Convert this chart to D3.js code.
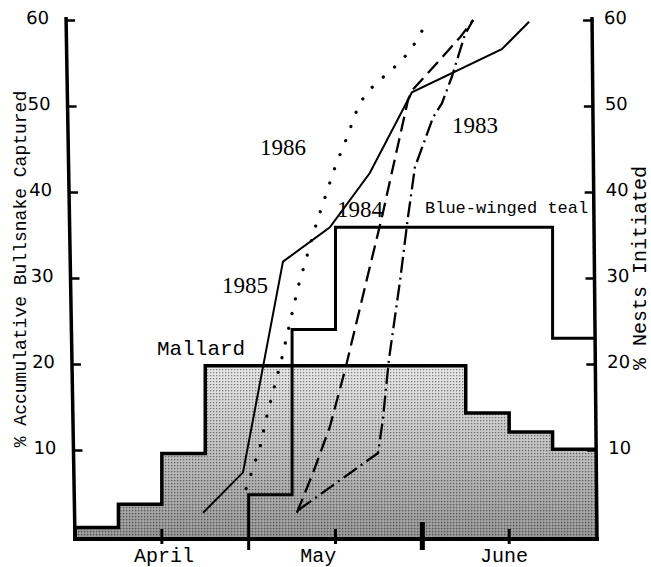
<!DOCTYPE html>
<html>
<head>
<meta charset="utf-8">
<script src="https://cdn.jsdelivr.net/npm/d3@7"></script>
<style>
  html, body { margin: 0; padding: 0; background: #fff; }
  svg { display: block; }
</style>
</head>
<body>
<script>
// weekly bins, week 0 = start of April
var mallardPct = [1, 3.7, 9.6, 19.8, 19.8, 19.8, 19.8, 19.8, 19.8, 14.3, 12.1, 10.1];
var tealStartWeek = 4;
var tealPct = [4.8, 24, 35.9, 35.9, 35.9, 35.9, 35.9, 23];

// cumulative bullsnake captures, [week, %]
var snake1983 = [[5.14,3.0],[6.98,9.65],[7.09,13.5],[7.23,20.5],[7.49,29.8],[7.67,37.1],[7.83,42.9],[8.25,48.7],[8.45,50.3],[8.68,53.4],[8.98,58.3],[9.17,60]];
var snake1984 = [[5.11,2.7],[5.48,7.3],[5.87,12.7],[6.22,19.3],[6.72,29.8],[7.07,37.1],[7.67,50.7],[7.78,51.9],[8.25,54.5],[8.87,58.0],[9.17,60]];
var snake1985 = [[2.95,2.7],[3.87,7.4],[4.79,31.9],[5.87,35.9],[6.79,42.2],[7.76,51.6],[9.83,56.6],[10.46,59.8]];
var snake1986 = [[3.94,5.5],[4.26,10.3],[4.44,14.4],[4.77,20.8],[5.14,29.0],[5.57,36.5],[5.99,42.9],[6.26,46.3],[6.52,49.9],[6.72,51.6],[7.02,53.0],[7.53,55.3],[7.78,56.9],[8.08,59.5]];

var yTicks = [10, 20, 30, 40, 50, 60];
var weekTicks = [2, 4, 6, 8, 10];
var monthNames = ["April", "May", "June"];
var monthAt = [2.05, 5.6, 9.88];

var width = 651, height = 567;
var svg = d3.select("body").append("svg")
    .attr("width", width)
    .attr("height", height);

var x = d3.scaleLinear().domain([0, 12]).range([75, 596]);
var y = d3.scaleLinear().domain([0, 60]).range([536, 20]);
var base = y(0) + 3;

var mono = "'Liberation Mono', 'DejaVu Sans Mono', monospace";
var serif = "'Liberation Serif', 'DejaVu Serif', serif";
var sans = "'DejaVu Sans', sans-serif";

// shading for the mallard histogram
var defs = svg.append("defs");
var grad = defs.append("linearGradient")
    .attr("id", "shade")
    .attr("gradientUnits", "userSpaceOnUse")
    .attr("x1", 0).attr("y1", y(20))
    .attr("x2", 0).attr("y2", base);
grad.append("stop").attr("offset", "0%").attr("stop-color", "#e6e6e6");
grad.append("stop").attr("offset", "100%").attr("stop-color", "#8c8c8c");

var pat = defs.append("pattern")
    .attr("id", "dots")
    .attr("patternUnits", "userSpaceOnUse")
    .attr("width", 3).attr("height", 3);
pat.append("rect").attr("width", 1.3).attr("height", 1.3).attr("fill", "#111").attr("opacity", 0.45);
pat.append("rect").attr("x", 1.5).attr("y", 1.5).attr("width", 1).attr("height", 1).attr("fill", "#fff").attr("opacity", 0.55);

function stepPath(start, vals, closeBottom) {
    var p = d3.path();
    p.moveTo(x(start), base);
    vals.forEach(function (v, i) {
        p.lineTo(x(start + i), y(v));
        p.lineTo(x(start + i + 1), y(v));
    });
    if (closeBottom) {
        p.lineTo(x(start + vals.length), base);
        p.closePath();
    }
    return p.toString();
}

// mallard filled histogram
svg.append("path")
    .attr("d", stepPath(0, mallardPct, true))
    .attr("fill", "url(#shade)");
svg.append("path")
    .attr("d", stepPath(0, mallardPct, true))
    .attr("fill", "url(#dots)");
svg.append("path")
    .attr("d", stepPath(0, mallardPct, false))
    .attr("fill", "none")
    .attr("stroke", "#000")
    .attr("stroke-width", 3.5);

// blue-winged teal outline
svg.append("path")
    .attr("d", stepPath(tealStartWeek, tealPct, false))
    .attr("fill", "none")
    .attr("stroke", "#000")
    .attr("stroke-width", 3);

// bullsnake lines
var line = d3.line()
    .x(function (d) { return x(d[0]); })
    .y(function (d) { return y(d[1]); });

var series = [
    { data: snake1985, dash: null, w: 2 },
    { data: snake1984, dash: "15 7", w: 2.3 },
    { data: snake1983, dash: "16 5 2 5", w: 2.3 },
    { data: snake1986, dash: "0.1 15", w: 3.2 }
];
series.forEach(function (s) {
    svg.append("path")
        .attr("d", line(s.data))
        .attr("fill", "none")
        .attr("stroke", "#000")
        .attr("stroke-width", s.w)
        .attr("stroke-linecap", s.dash === "0.1 15" ? "round" : "butt")
        .attr("stroke-dasharray", s.dash);
});

// baseline and month ticks
svg.append("line")
    .attr("x1", 73).attr("x2", 599)
    .attr("y1", base).attr("y2", base)
    .attr("stroke", "#000").attr("stroke-width", 4);

svg.selectAll(".wtick")
    .data(weekTicks)
    .enter().append("line")
    .attr("class", "wtick")
    .attr("x1", function (d) { return x(d); })
    .attr("x2", function (d) { return x(d); })
    .attr("y1", function (d) { return d === 8 ? base - 17 : (d === 4 ? base : base - 10); })
    .attr("y2", function (d) { return d % 4 === 0 ? base + 11 : base + 5; })
    .attr("stroke", "#000")
    .attr("stroke-width", function (d) { return d === 8 ? 5 : 3; });

svg.selectAll(".month")
    .data(monthNames)
    .enter().append("text")
    .attr("class", "month")
    .attr("x", function (d, i) { return x(monthAt[i]); })
    .attr("y", 562)
    .attr("text-anchor", "middle")
    .style("font-family", mono)
    .style("font-size", "20px")
    .text(function (d) { return d; });

// left axis (slightly tilted like the scan)
var kL = 9 / 524;
var leftG = svg.append("g")
    .attr("transform", "translate(" + (75 - base * kL) + ",0) skewX(" + (Math.atan(kL) * 180 / Math.PI) + ")");
leftG.call(d3.axisLeft(y).tickValues(yTicks).tickSize(-9).tickPadding(17).tickFormat(d3.format("d")));
leftG.select(".domain").remove();
leftG.selectAll(".tick line").attr("stroke-width", 2.5);
leftG.selectAll(".tick text")
    .attr("dy", "0.2em")
    .style("font-family", sans)
    .style("font-size", "18px");
leftG.append("line")
    .attr("x1", 0).attr("x2", 0)
    .attr("y1", y(60) - 3).attr("y2", base + 2)
    .attr("stroke", "#000").attr("stroke-width", 3.5);

// right axis
var kR = 5 / 524;
var rightG = svg.append("g")
    .attr("transform", "translate(" + (597 - base * kR) + ",0) skewX(" + (Math.atan(kR) * 180 / Math.PI) + ")");
rightG.call(d3.axisRight(y).tickValues(yTicks).tickSize(-9).tickPadding(12).tickFormat(d3.format("d")));
rightG.select(".domain").remove();
rightG.selectAll(".tick line").attr("stroke-width", 2.5);
rightG.selectAll(".tick text")
    .attr("dy", "0.2em")
    .style("font-family", sans)
    .style("font-size", "18px");
rightG.append("line")
    .attr("x1", 0).attr("x2", 0)
    .attr("y1", y(60) - 3).attr("y2", base + 2)
    .attr("stroke", "#000").attr("stroke-width", 3.5);

// axis titles
svg.append("text")
    .attr("transform", "translate(20," + 269 + ") rotate(-90)")
    .attr("text-anchor", "middle")
    .attr("dy", "0.35em")
    .style("font-family", mono)
    .style("font-size", "18px")
    .text("% Accumulative Bullsnake Captured");

svg.append("text")
    .attr("transform", "translate(639," + 268 + ") rotate(-90)")
    .attr("text-anchor", "middle")
    .attr("dy", "0.35em")
    .style("font-family", mono)
    .style("font-size", "20px")
    .text("% Nests Initiated");

// annotations
function note(txt, px, py, font, size) {
    svg.append("text")
        .attr("x", px).attr("y", py)
        .style("font-family", font)
        .style("font-size", size)
        .text(txt);
}
note("1986", 260, 155, serif, "23px");
note("1984", 337, 217, serif, "23px");
note("1983", 452, 133, serif, "23px");
note("1985", 222, 293, serif, "23px");
note("Mallard", 157, 355, mono, "21px");
note("Blue-winged teal", 425, 213, mono, "17px");
</script>
</body>
</html>
